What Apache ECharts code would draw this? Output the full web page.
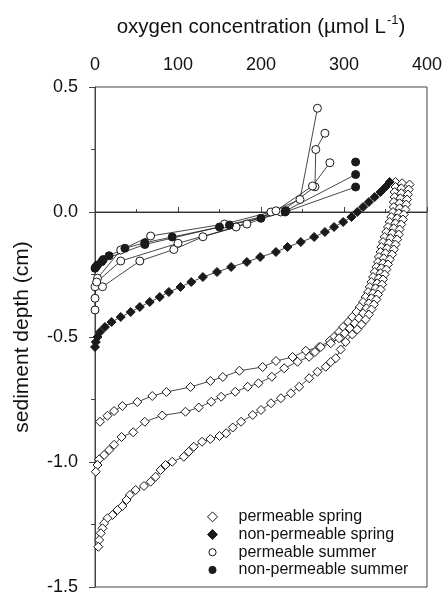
<!DOCTYPE html>
<html><head><meta charset="utf-8">
<script src="https://cdn.jsdelivr.net/npm/echarts@6/dist/echarts.min.js"></script>
<style>html,body{margin:0;padding:0;background:#fff}#c{width:448px;height:601px}</style>
</head><body><div id="c"></div>
<script>
// axis settings
const xMin = 0, xMax = 400, xStep = 100;
const yMin = -1.5, yMax = 0.5, yStep = 0.5;
const seriesNames = ['permeable spring', 'non-permeable spring', 'permeable summer', 'non-permeable summer'];

// [oxygen (umol/L), depth (cm)]
const permSpringA = [[362,0.12],[362,0.10],[361,0.08],[361,0.06],[360,0.04],[360,0.02],[359,0.0],[357,-0.02],[355,-0.04],[353,-0.06],[351,-0.08],[349,-0.10],[347,-0.12],[345,-0.14],[344,-0.16],[342,-0.18],[341,-0.20],[339,-0.22],[337,-0.24],[335,-0.26],[333,-0.28],[331,-0.30],[329,-0.32],[326,-0.34],[323,-0.36],[319,-0.38],[315,-0.40],[310,-0.42],[305,-0.44],[299,-0.46],[294,-0.48],[288,-0.50],[283,-0.515],[270,-0.54],[254,-0.555],[238,-0.58],[218,-0.596],[202,-0.62],[174,-0.635],[154,-0.66],[139,-0.676],[115,-0.70],[86,-0.72],[69,-0.736],[51,-0.76],[33,-0.776],[23,-0.796],[15,-0.815],[6,-0.839]];
const permSpringB = [[370,0.115],[369,0.095],[369,0.075],[368,0.055],[367,0.035],[367,0.015],[366,-0.005],[364,-0.025],[362,-0.045],[360,-0.065],[358,-0.085],[356,-0.105],[354,-0.125],[352,-0.145],[350,-0.165],[348,-0.185],[347,-0.205],[345,-0.225],[344,-0.245],[342,-0.265],[340,-0.285],[338,-0.305],[335,-0.325],[333,-0.345],[330,-0.365],[327,-0.385],[323,-0.405],[318,-0.425],[313,-0.445],[307,-0.465],[301,-0.485],[294,-0.505],[284,-0.525],[272,-0.54],[265,-0.56],[258,-0.579],[244,-0.599],[228,-0.625],[213,-0.659],[197,-0.685],[184,-0.699],[169,-0.719],[152,-0.739],[140,-0.759],[125,-0.782],[109,-0.799],[81,-0.814],[60,-0.839],[46,-0.881],[32,-0.900],[23,-0.931],[17,-0.952],[11,-0.972],[5,-0.989],[3,-1.012],[1,-1.039]];
const permSpringC = [[379,0.11],[378,0.09],[377,0.07],[376,0.05],[375,0.03],[374,0.01],[372,-0.01],[371,-0.03],[369,-0.05],[367,-0.07],[366,-0.09],[364,-0.11],[362,-0.13],[360,-0.15],[358,-0.17],[355,-0.19],[353,-0.21],[351,-0.23],[349,-0.25],[347,-0.27],[346,-0.29],[344,-0.31],[341,-0.33],[339,-0.35],[336,-0.37],[333,-0.39],[330,-0.41],[326,-0.43],[321,-0.45],[316,-0.47],[310,-0.49],[302,-0.52],[296,-0.55],[290,-0.585],[284,-0.60],[278,-0.619],[268,-0.639],[258,-0.665],[246,-0.699],[236,-0.725],[224,-0.745],[212,-0.765],[200,-0.792],[190,-0.812],[176,-0.839],[166,-0.862],[158,-0.885],[150,-0.896],[139,-0.908],[129,-0.919],[119,-0.939],[113,-0.959],[107,-0.979],[93,-0.999],[85,-1.012],[79,-1.032],[73,-1.059],[67,-1.079],[59,-1.096],[49,-1.112],[42,-1.132],[38,-1.152],[33,-1.176],[27,-1.192],[21,-1.212],[15,-1.225],[11,-1.245],[9,-1.265],[7,-1.285],[5,-1.312],[4,-1.339]];

const nonPermSpring = [[355,0.12],[350,0.10],[344,0.08],[337,0.06],[330,0.04],[323,0.02],[316,0.0],[309,-0.02],[299,-0.04],[288,-0.06],[277,-0.08],[264,-0.10],[248,-0.12],[232,-0.14],[218,-0.16],[199,-0.18],[183,-0.20],[164,-0.22],[147,-0.24],[130,-0.26],[116,-0.28],[103,-0.30],[89,-0.32],[78,-0.34],[66,-0.36],[54,-0.38],[43,-0.40],[31,-0.42],[20,-0.44],[12,-0.46],[6,-0.48],[3,-0.50],[1,-0.52],[0,-0.54]];

const permSummerA = [[268,0.415],[247,0.05],[212,0.0],[156,-0.048],[67,-0.096],[31,-0.152],[3,-0.265],[0,-0.299],[0,-0.345],[0,-0.392]];
const permSummerB = [[277,0.315],[266,0.25],[265,0.101],[224,0.0],[183,-0.048],[130,-0.099],[95,-0.150],[54,-0.196],[9,-0.299]];
const permSummerC = [[283,0.197],[262,0.104],[218,0.005],[170,-0.06],[100,-0.125],[31,-0.196],[2,-0.28]];

const nonPermSummerA = [[314,0.10],[229,0.0],[200,-0.025],[162,-0.052],[93,-0.10],[60,-0.123],[36,-0.145],[17,-0.175],[8,-0.199],[3,-0.212],[0,-0.225]];
const nonPermSummerB = [[314,0.15],[230,0.005],[150,-0.06],[60,-0.13],[10,-0.19],[1,-0.22]];
const nonPermSummerC = [[314,0.20]];

const zeroLine = [[0,0],[400,0]];

const ink = '#1a1a1a';
const font = 'Liberation Sans, Arial, sans-serif';
// small circle icon padded inside a 10x10 box so it matches the diamond visually
const smallCircle = 'path://M0,0M10,10M5,1.4A3.6,3.6,0,1,1,4.99,1.4Z';

function profile(name, data, symbol, filled) {
  return {
    name: name, type: 'line', data: data,
    symbol: symbol, symbolSize: symbol === 'diamond' ? 9 : 8,
    showAllSymbol: true, silent: true,
    lineStyle: { color: ink, width: 0.8 },
    itemStyle: { color: filled ? ink : '#fff', borderColor: ink, borderWidth: 1 },
    z: 3
  };
}

const series = [
  { type: 'line', data: zeroLine, symbol: 'none', lineStyle: { color: ink, width: 0.8 }, silent: true, z: 1 },
  profile(seriesNames[0], permSpringA, 'diamond', false),
  profile(seriesNames[0], permSpringB, 'diamond', false),
  profile(seriesNames[0], permSpringC, 'diamond', false),
  profile(seriesNames[1], nonPermSpring, 'diamond', true),
  profile(seriesNames[2], permSummerA, 'circle', false),
  profile(seriesNames[2], permSummerB, 'circle', false),
  profile(seriesNames[2], permSummerC, 'circle', false),
  profile(seriesNames[3], nonPermSummerA, 'circle', true),
  profile(seriesNames[3], nonPermSummerB, 'circle', true),
  profile(seriesNames[3], nonPermSummerC, 'circle', true)
];

const chart = echarts.init(document.getElementById('c'), null, { renderer: 'canvas' });
chart.setOption({
  animation: false,
  backgroundColor: '#fff',
  grid: { left: 95, right: 21, top: 87, bottom: 14, show: true, borderColor: '#444', borderWidth: 1, backgroundColor: 'transparent' },
  xAxis: {
    type: 'value', position: 'top', min: xMin, max: xMax, interval: xStep,
    name: 'oxygen concentration (µmol L{sup|-1})', nameLocation: 'middle', nameGap: 47,
    nameTextStyle: { fontSize: 20.5, fontFamily: font, color: '#111', lineHeight: 26,
      rich: { sup: { fontSize: 13, fontFamily: font, color: '#111', verticalAlign: 'top', padding: [0, 0, 0, 1] } } },
    axisLine: { show: true, lineStyle: { color: '#444', width: 1 } },
    axisTick: { show: true, length: 5, lineStyle: { color: '#444' } },
    minorTick: { show: true, splitNumber: 2, length: 3, lineStyle: { color: '#444' } },
    axisLabel: { fontSize: 18, fontFamily: font, color: '#111', margin: 13 },
    splitLine: { show: false }
  },
  yAxis: {
    type: 'value', min: yMin, max: yMax, interval: yStep,
    name: 'sediment depth (cm)', nameLocation: 'middle', nameGap: 62,
    nameTextStyle: { fontSize: 21, fontFamily: font, color: '#111' },
    axisLine: { show: true, lineStyle: { color: '#444', width: 1 } },
    axisTick: { show: true, length: 6, lineStyle: { color: '#444' } },
    minorTick: { show: true, splitNumber: 2, length: 4, lineStyle: { color: '#444' } },
    axisLabel: { fontSize: 18, fontFamily: font, color: '#111', margin: 17, formatter: v => v.toFixed(1) },
    splitLine: { show: false }
  },
  legend: {
    orient: 'vertical', left: 202, top: 503, itemGap: 0, itemWidth: 10, itemHeight: 10,
    selectedMode: false,
    textStyle: { fontSize: 16, fontFamily: font, color: '#111', lineHeight: 17.7, padding: [0, 0, 0, 16] },
    data: [
      { name: seriesNames[0], icon: 'diamond', itemStyle: { color: '#fff', borderColor: ink, borderWidth: 1 } },
      { name: seriesNames[1], icon: 'diamond', itemStyle: { color: ink, borderColor: ink, borderWidth: 1 } },
      { name: seriesNames[2], icon: smallCircle, itemStyle: { color: '#fff', borderColor: ink, borderWidth: 1 } },
      { name: seriesNames[3], icon: smallCircle, itemStyle: { color: ink, borderColor: ink, borderWidth: 1 } }
    ]
  },
  series: series
});
</script>
</body></html>
